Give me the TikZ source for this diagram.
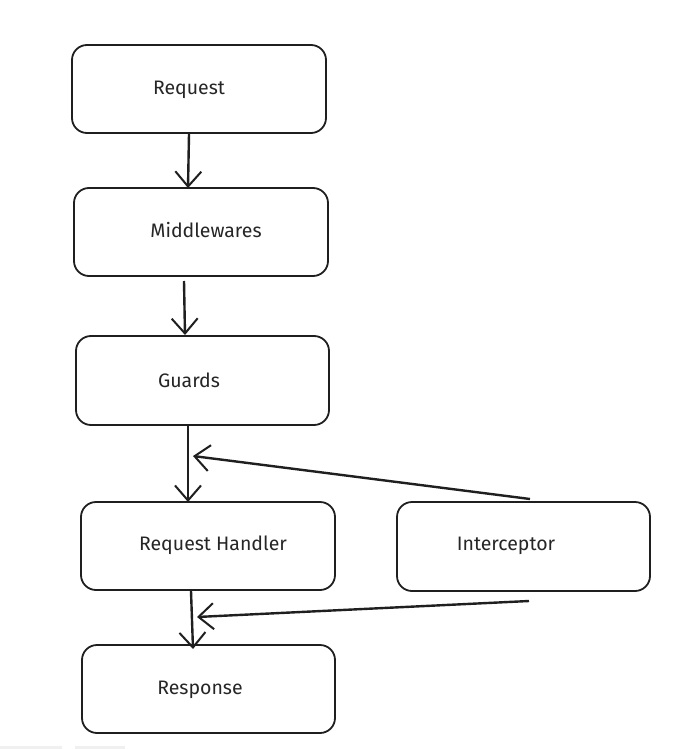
\documentclass[tikz,border=0pt]{standalone}
\usepackage{fontspec}
\setmainfont{Fira Sans}
\usetikzlibrary{arrows.meta,calc}
\begin{document}
\begin{tikzpicture}[x=1pt,y=-1pt,
  stage/.style={draw=black!88, line width=1.8pt, rounded corners=15pt, fill=white},
  flow/.style={draw=black!88, line width=2.4pt, -{Straight Barb[length=15pt,width=26pt,line width=2pt]}},
  label/.style={font=\fontsize{19.5}{23}\selectfont, text=black!85, anchor=center}
]
\useasboundingbox (0,0) rectangle (693,749);
\fill[white] (0,0) rectangle (693,749);
% faint tabs along the lower edge
\fill[black!6] (0,746) rectangle (62,749);
\fill[black!6] (75,746) rectangle (125,749);

% stages
\draw[stage] (72,45) rectangle (326,133);
\node[label] (req) at (189,90) {Request};

\draw[stage] (74,188) rectangle (328,276);
\node[label] (mid) at (206,230) {Middlewares};

\draw[stage] (76,336) rectangle (329,425);
\node[label] (grd) at (189,380) {Guards};

\draw[stage] (81,502) rectangle (335,590);
\node[label] (rh) at (213,545) {Request Handler};

\draw[stage] (397,502) rectangle (650,591);
\node[label] (icp) at (506,546) {Interceptor};

\draw[stage] (82,645) rectangle (335,733);
\node[label] (resp) at (200,690) {Response};

% connector end points on the box edges
\coordinate (reqOut) at (189,134);
\coordinate (midIn) at (188,188);
\coordinate (midOut) at (184,281);
\coordinate (grdIn) at (185,335);
\coordinate (grdOut) at (188,426);
\coordinate (rhIn) at (188,502);
\coordinate (rhOut) at (191,591);
\coordinate (respIn) at (193,649);
\coordinate (icpTop) at (530,499);
\coordinate (icpHit) at (193,456);
\coordinate (icpBot) at (529,601);
\coordinate (icpHit2) at (197,617);

\draw[flow] (reqOut) -- (midIn);
\draw[flow] (midOut) -- (grdIn);
\draw[flow] (grdOut) -- (rhIn);
\draw[flow] (rhOut) -- (respIn);
\draw[flow] (icpTop) -- (icpHit);
\draw[flow] (icpBot) -- (icpHit2);
\end{tikzpicture}
\end{document}
